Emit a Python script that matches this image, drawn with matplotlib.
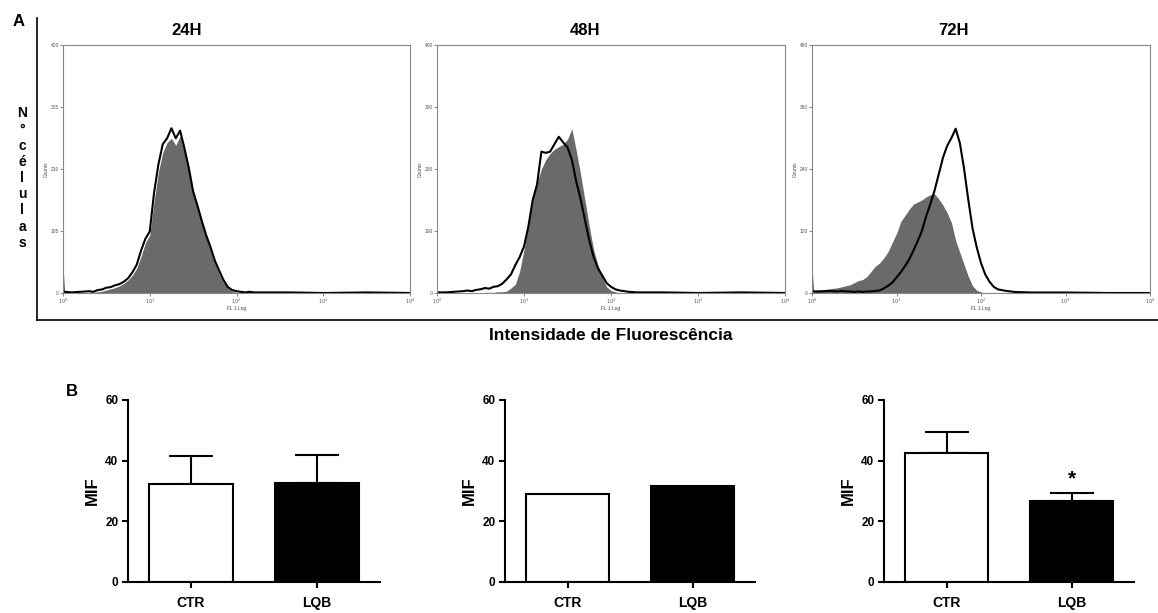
import numpy as np
import matplotlib
matplotlib.use('Agg')
import matplotlib.pyplot as plt
from matplotlib.lines import Line2D

plt.rcParams['font.family'] = ['Liberation Sans', 'DejaVu Sans']

# ---- Datos de los histogramas (posicion log10 de FL1, conteos) ----
BIN_LOG = [0.0, 0.02, 0.1, 0.2, 0.3, 0.35, 0.4, 0.45, 0.5, 0.55, 0.6, 0.65, 0.7, 0.75,
           0.8, 0.85, 0.9, 0.95, 1.0, 1.05, 1.1, 1.15, 1.2, 1.25, 1.3, 1.35, 1.4, 1.45,
           1.5, 1.55, 1.6, 1.65, 1.7, 1.75, 1.8, 1.85, 1.9, 1.95, 2.0, 2.05, 2.1, 2.15,
           2.2, 2.3, 2.4, 2.6, 3.0, 3.5, 4.0]

gris_24 = [45, 2, 0, 0, 1, 1, 2, 3, 5, 7, 9, 12, 16, 22,
           30, 42, 62, 85, 98, 155, 205, 238, 255, 262, 250, 266, 238, 208,
           168, 146, 118, 95, 72, 50, 32, 18, 8, 3, 1, 0, 0, 0,
           0, 0, 0, 0, 0, 0, 0]
negro_24 = [3, 2, 1, 2, 3, 2, 5, 6, 9, 10, 13, 15, 19, 25,
            35, 48, 72, 92, 104, 170, 218, 252, 262, 279, 262, 275, 245, 212,
            172, 148, 122, 98, 78, 55, 38, 22, 10, 5, 3, 2, 1, 2,
            1, 1, 1, 1, 0, 1, 0]

gris_48 = [0, 0, 0, 0, 0, 0, 0, 0, 0, 1, 1, 1, 2, 2,
           3, 8, 14, 35, 70, 110, 150, 178, 200, 215, 225, 232, 236, 240,
           248, 265, 230, 192, 150, 108, 70, 45, 25, 10, 4, 2, 0, 0,
           0, 0, 0, 0, 0, 0, 0]
negro_48 = [1, 1, 1, 2, 3, 4, 3, 5, 6, 8, 7, 10, 11, 15,
            22, 30, 45, 58, 75, 107, 150, 175, 228, 226, 228, 240, 252, 243,
            235, 215, 180, 152, 118, 85, 58, 40, 28, 16, 10, 6, 4, 3,
            2, 1, 1, 1, 0, 1, 0]

gris_72 = [50, 5, 6, 8, 10, 12, 14, 16, 20, 24, 26, 32, 42, 52,
           58, 68, 80, 98, 115, 138, 150, 162, 172, 176, 180, 186, 190, 192,
           182, 170, 155, 136, 102, 78, 55, 32, 14, 5, 2, 0, 0, 0,
           0, 0, 0, 0, 0, 0, 0]
negro_72 = [4, 3, 3, 4, 3, 4, 3, 3, 2, 3, 2, 3, 3, 4,
            5, 9, 14, 20, 30, 40, 52, 65, 82, 100, 120, 148, 172, 198,
            230, 262, 285, 300, 318, 290, 240, 180, 125, 88, 58, 36, 22, 12,
            7, 4, 2, 1, 1, 0, 0]

tiempos = ['24H', '48H', '72H']
ymax_hist = [420, 400, 480]

# ---- Datos de las barras (MIF) ----
grupos = ['CTR', 'LQB']
mif_24 = [32.2, 32.7]
err_24 = [9.2, 9.2]
mif_48 = [29.1, 31.8]
err_48 = [0, 0]
mif_72 = [42.4, 26.8]
err_72 = [7.2, 2.6]
signif_72 = ['', '*']

fig = plt.figure(figsize=(11.58, 6.13), dpi=100)
W, H = 1158.0, 613.0

def caja(x0, y0, x1, y1):
    # convierte pixeles (arriba-izquierda) a fraccion de figura
    return [x0 / W, 1 - y1 / H, (x1 - x0) / W, (y1 - y0) / H]

hist_boxes = [caja(63, 45, 410, 293), caja(437, 45, 785, 293), caja(812, 45, 1150, 293)]
titulo_x = [0.357, 0.425, 0.42]  # los titulos no estan centrados en el original
series = [(gris_24, negro_24), (gris_48, negro_48), (gris_72, negro_72)]

x_fl = 10 ** np.array(BIN_LOG)
for box, (gris, negro), titulo, tx, ymax in zip(hist_boxes, series, tiempos, titulo_x, ymax_hist):
    ax = fig.add_axes(box)
    ax.fill_between(x_fl, gris, color='#6a6a6a', lw=0)
    ax.plot(x_fl, negro, color='black', lw=1.5)
    ax.set_xscale('log')
    ax.set_xlim(1, 1e4)
    ax.set_ylim(0, ymax)
    ax.set_xticks([1, 10, 100, 1000, 10000])
    ax.set_xticklabels([r'$10^0$', r'$10^1$', r'$10^2$', r'$10^3$', r'$10^4$'])
    ax.minorticks_off()
    ax.set_yticks(np.linspace(0, ymax, 5))
    ax.set_yticklabels([str(int(v)) for v in np.linspace(0, ymax, 5)])
    ax.tick_params(labelsize=3.5, length=2, width=0.5, colors='#555555', pad=1)
    for s in ax.spines.values():
        s.set_color('#888888')
        s.set_linewidth(0.8)
    ax.set_xlabel('FL 1 Log', fontsize=3.5, labelpad=0, color='#444444')
    ax.set_ylabel('Counts', fontsize=3.5, labelpad=1, color='#444444')
    ax.set_title(titulo, fontsize=12, fontweight='bold', pad=7, x=tx)

# marco del panel A
fig.add_artist(Line2D([37 / W, 37 / W], [1 - 18 / H, 1 - 320 / H], color='black', lw=1.2))
fig.add_artist(Line2D([37 / W, 1.0], [1 - 320 / H, 1 - 320 / H], color='black', lw=1.2))

fig.text(13 / W, 1 - 22 / H, 'A', fontsize=12, fontweight='bold', va='center')
fig.text(22 / W, 1 - 178 / H, '\n'.join('N°células'), fontsize=10, fontweight='bold',
         ha='center', va='center')
fig.text(611 / W, 1 - 336 / H, 'Intensidade de Fluorescência', fontsize=12.5,
         fontweight='bold', ha='center', va='center')
fig.text(66 / W, 1 - 392 / H, 'B', fontsize=12, fontweight='bold', va='center')

# ---- Barras ----
bar_boxes = [caja(128, 400, 380, 582), caja(505, 400, 755, 582), caja(884, 400, 1134, 582)]
barras = [(mif_24, err_24, None), (mif_48, err_48, None), (mif_72, err_72, signif_72)]
pos = np.arange(len(grupos))
for box, (vals, errs, sig) in zip(bar_boxes, barras):
    ax = fig.add_axes(box)
    errs = np.array(errs)
    con_err = errs > 0
    if con_err.any():
        ax.errorbar(pos[con_err], np.array(vals)[con_err],
                    yerr=[np.zeros(con_err.sum()), errs[con_err]],
                    fmt='none', ecolor='black', elinewidth=1.5, capsize=16, capthick=1.5,
                    zorder=1)
    ax.bar(pos, vals, width=0.67, color=['white', 'black'], edgecolor='black',
           linewidth=1.5, zorder=2)
    if sig is not None:
        for p, v, e, s in zip(pos, vals, errs, sig):
            if s:
                ax.text(p, v + e + 1.5, s, ha='center', va='bottom', fontsize=15,
                        fontweight='bold')
    ax.set_xlim(-0.5, 1.5)
    ax.set_ylim(0, 60)
    ax.set_yticks([0, 20, 40, 60])
    ax.set_xticks(pos)
    ax.set_xticklabels(grupos, fontsize=10, fontweight='bold')
    for lab in ax.get_yticklabels():
        lab.set_fontweight('bold')
        lab.set_fontsize(8.5)
    ax.tick_params(width=1.5, length=4, pad=3)
    ax.tick_params(axis='x', pad=6)
    ax.spines['top'].set_visible(False)
    ax.spines['right'].set_visible(False)
    ax.spines['left'].set_linewidth(1.5)
    ax.spines['bottom'].set_linewidth(1.5)
    ax.set_ylabel('MIF', fontsize=12, fontweight='bold', labelpad=4)

fig.savefig('out.png', dpi=100)
